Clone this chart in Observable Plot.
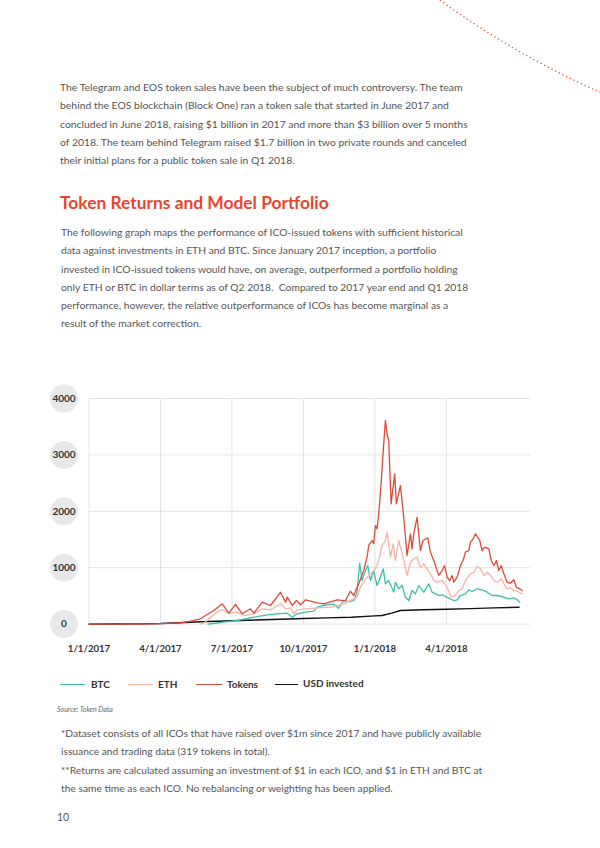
<!DOCTYPE html>
<html><head><meta charset="utf-8">
<script src="https://cdn.jsdelivr.net/npm/d3@7"></script>
<script src="https://cdn.jsdelivr.net/npm/@observablehq/plot@0.6"></script>
<style>
html,body{margin:0;padding:0;background:#fff;}
#page{position:relative;width:600px;height:848px;overflow:hidden;font-family:Lato,"Open Sans",sans-serif;color:#555;}
.ln{position:absolute;left:60px;white-space:nowrap;line-height:1;transform:translateY(-50%);font-size:10px;}
.h{color:#e8452e;font-weight:700;font-size:16px;}
.leg{position:absolute;top:684px;transform:translateY(-50%);font-weight:700;font-size:10px;color:#333;line-height:1;white-space:nowrap;}
.sw{position:absolute;height:1.3px;top:684px;}
#chart{position:absolute;left:0;top:380px;}
</style></head>
<body><div id="page"></div>
<script>
// ---- data (x = months since 1 Jan 2017, quarters drawn evenly spaced) ----
const tickMonths = [0, 3, 6, 9, 12, 15];
const tickLabels = ["1/1/2017", "4/1/2017", "7/1/2017", "10/1/2017", "1/1/2018", "4/1/2018"];
const yTicks = [0, 1000, 2000, 3000, 4000];
const seriesNames = ["BTC", "ETH", "Tokens", "USD invested"];
const seriesColors = ["#3fbfab", "#f5b4a5", "#de4a39", "#111111"];

const btc = [[5.0,0],[5.3,15],[5.66,34],[6.22,64],[6.92,122],[7.48,165],[7.9,183],[8.32,193],[8.53,122],[8.74,183],[9.09,211],[9.43,229],[9.58,300],[9.85,330],[10.27,358],[10.47,280],[10.69,420],[10.9,400],[11.11,418],[11.25,566],[11.36,1080],[11.46,773],[11.56,892],[11.7,1039],[11.81,773],[11.95,950],[12.09,684],[12.23,832],[12.35,980],[12.44,714],[12.58,773],[12.79,566],[12.86,743],[13.0,626],[13.14,684],[13.28,477],[13.42,418],[13.56,596],[13.7,537],[13.84,684],[14.05,566],[14.26,714],[14.4,566],[14.54,537],[14.68,507],[14.85,520],[15.0,477],[15.17,449],[15.31,418],[15.45,430],[15.59,507],[15.8,537],[15.94,608],[16.08,578],[16.29,626],[16.5,608],[16.71,566],[16.92,507],[17.13,507],[17.41,477],[17.62,449],[17.83,466],[17.97,431],[18.08,388]];

const eth = [[4.7,0],[4.9,40],[5.1,122],[5.38,211],[5.59,254],[5.87,193],[6.22,211],[6.5,152],[6.92,183],[7.27,271],[7.62,254],[8.04,360],[8.25,271],[8.46,289],[8.6,183],[8.74,254],[9.09,271],[9.58,289],[10.13,300],[10.42,330],[10.69,360],[10.97,418],[11.25,477],[11.39,654],[11.53,743],[11.67,832],[11.88,920],[12.02,980],[12.16,1128],[12.3,1400],[12.44,1482],[12.51,1630],[12.58,1424],[12.65,1186],[12.77,1424],[12.86,1128],[13.0,1482],[13.21,1128],[13.35,862],[13.49,1098],[13.63,1158],[13.77,1190],[13.91,1000],[14.05,1069],[14.19,980],[14.33,892],[14.47,773],[14.61,743],[14.82,773],[15.03,654],[15.17,507],[15.31,477],[15.52,596],[15.66,626],[15.8,773],[16.01,892],[16.15,920],[16.29,1021],[16.43,980],[16.57,862],[16.71,920],[16.85,862],[16.99,773],[17.16,743],[17.3,803],[17.41,714],[17.55,626],[17.69,644],[17.83,596],[17.97,583],[18.18,537]];

const tokens = [[0,0],[1,1],[2,2],[2.7,5],[3.3,12],[3.9,25],[4.26,51],[4.68,94],[4.82,135],[5.24,241],[5.59,360],[5.87,193],[6.15,348],[6.43,183],[6.77,271],[6.92,193],[7.27,388],[7.62,330],[8.04,566],[8.25,388],[8.32,477],[8.53,330],[8.71,418],[8.88,342],[9.09,431],[9.58,378],[9.85,360],[10.42,431],[10.6,420],[10.76,418],[10.97,583],[11.11,507],[11.32,714],[11.53,950],[11.67,1186],[11.74,1394],[11.88,1482],[11.95,1424],[12.02,1748],[12.09,1690],[12.16,1956],[12.26,2488],[12.35,3078],[12.44,3610],[12.51,3374],[12.58,3255],[12.68,2133],[12.83,2665],[12.9,2133],[13.07,2457],[13.21,1895],[13.35,1216],[13.49,1601],[13.56,1335],[13.63,1601],[13.77,1895],[13.91,1305],[14.02,1482],[14.22,1530],[14.33,1275],[14.47,1128],[14.68,862],[14.82,950],[14.92,1039],[15.03,832],[15.14,773],[15.24,862],[15.31,743],[15.45,832],[15.59,1039],[15.7,1128],[15.8,1275],[15.94,1305],[16.01,1452],[16.12,1512],[16.22,1601],[16.4,1482],[16.5,1305],[16.6,1364],[16.78,1335],[16.88,1128],[16.99,1039],[17.1,1128],[17.2,950],[17.3,1039],[17.41,892],[17.55,743],[17.69,725],[17.83,785],[17.94,654],[18.08,626],[18.18,596]];

const usdInvested = [[0,0],[1,1],[2,4],[3,10],[4,28],[5,45],[6,60],[7,73],[8,86],[9,98],[10,110],[11,122],[12,145],[12.3,152],[12.7,195],[13.07,241],[14,254],[15,264],[16,275],[17,287],[18.05,300]];

// ---- text ----
const para1 = [
 "The Telegram and EOS token sales have been the subject of much controversy. The team",
 "behind the EOS blockchain (Block One) ran a token sale that started in June 2017 and",
 "concluded in June 2018, raising $1 billion in 2017 and more than $3 billion over 5 months",
 "of 2018. The team behind Telegram raised $1.7 billion in two private rounds and canceled",
 "their initial plans for a public token sale in Q1 2018."];
const heading = "Token Returns and Model Portfolio";
const para2 = [
 "The following graph maps the performance of ICO-issued tokens with sufficient historical",
 "data against investments in ETH and BTC. Since January 2017 inception, a portfolio",
 "invested in ICO-issued tokens would have, on average, outperformed a portfolio holding",
 "only ETH or BTC in dollar terms as of Q2 2018.\u00a0 Compared to 2017 year end and Q1 2018",
 "performance, however, the relative outperformance of ICOs has become marginal as a",
 "result of the market correction."];
const sourceText = "Source: Token Data";
const notes = [
 "*Dataset consists of all ICOs that have raised over $1m since 2017 and have publicly available",
 "issuance and trading data (319 tokens in total).",
 "**Returns are calculated assuming an investment of $1 in each ICO, and $1 in ETH and BTC at",
 "the same time as each ICO. No rebalancing or weighting has been applied."];
const pageNumber = "10";

const page = document.getElementById("page");

// decorative dotted arc
page.insertAdjacentHTML("beforeend",
 '<svg width="600" height="120" style="position:absolute;left:0;top:0"><path d="M437,-2 Q515,55 604,94" fill="none" stroke="#e0503c" stroke-width="1.4" stroke-linecap="round" stroke-dasharray="0.1 4"/></svg>');

function block(lines, y0, dy, cls, target, left) {
  const els = lines.map((t, i) => {
    const d = document.createElement("div");
    d.className = "ln " + (cls || "");
    d.textContent = t;
    d.style.top = (y0 + dy * i) + "px";
    if (left != null) d.style.left = left + "px";
    page.appendChild(d);
    return d;
  });
  if (target) {
    const w = els[0].getBoundingClientRect().width;
    const fs = parseFloat(getComputedStyle(els[0]).fontSize) * target / w;
    els.forEach(e => e.style.fontSize = fs + "px");
  }
  return els;
}
block(para1, 87, 18.3, "", 403);
block([heading], 203, 0, "h", 269);
block(para2, 232.3, 18.1, "", 402, 61);
const src = block([sourceText], 709, 0, "", null, 57)[0];
src.style.fontSize = "7px"; src.style.fontStyle = "italic"; src.style.color = "#666";
block(notes, 733.3, 18.1, "", 421, 61);
block([pageNumber], 816.5, 0, "", null, 57)[0].style.fontSize = "10.5px";

// legend
const legX = [[60, 25, 91], [128, 25, 158], [196, 26, 227], [275, 23, 303]];
seriesNames.forEach((n, i) => {
  const [sx, sw, tx] = legX[i];
  page.insertAdjacentHTML("beforeend",
    `<div class="sw" style="left:${sx}px;width:${sw}px;background:${seriesColors[i]}"></div>` +
    `<div class="leg" style="left:${tx}px;${i === 3 ? "top:683px;" : ""}">${n}</div>`);
});

// chart
const chart = Plot.plot({
  width: 600, height: 290,
  marginLeft: 88.5, marginRight: 70, marginTop: 18, marginBottom: 46.4,
  x: {domain: [0, 18.53], axis: null},
  y: {domain: [0, 4000], axis: null},
  style: {fontFamily: "Lato, 'Open Sans', sans-serif", background: "transparent", overflow: "visible"},
  marks: [
    Plot.ruleY(yTicks, {stroke: "#e3e3e3", strokeWidth: 1}),
    Plot.ruleX(tickMonths, {stroke: "#e3e3e3", strokeWidth: 1}),
    Plot.dot(yTicks, {y: d => d, frameAnchor: "left", dx: -25, r: 14, fill: "#e8e8e8", stroke: null}),
    Plot.text(yTicks, {y: d => d, frameAnchor: "left", dx: -25, textAnchor: "middle", text: d => String(d), fontWeight: "bold", fontSize: 10, fill: "#333"}),
    Plot.text(tickMonths, {x: d => d, frameAnchor: "bottom", lineAnchor: "middle", dy: 24.7, text: d => tickLabels[tickMonths.indexOf(d)], fontWeight: "bold", fontSize: 9.6, fill: "#333"}),
    Plot.line(usdInvested, {x: d => d[0], y: d => d[1], stroke: seriesColors[3], strokeWidth: 1.4}),
    Plot.line(btc, {x: d => d[0], y: d => d[1], stroke: seriesColors[0], strokeWidth: 1.3}),
    Plot.line(eth, {x: d => d[0], y: d => d[1], stroke: seriesColors[1], strokeWidth: 1.3}),
    Plot.line(tokens, {x: d => d[0], y: d => d[1], stroke: seriesColors[2], strokeWidth: 1.3})
  ]
});
chart.id = "chart";
page.appendChild(chart);
</script>
</body></html>
